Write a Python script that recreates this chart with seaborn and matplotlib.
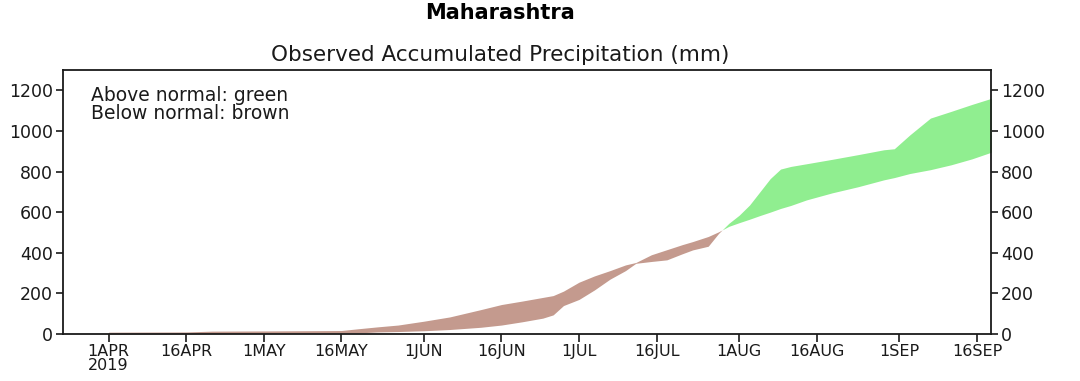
import matplotlib
matplotlib.use("Agg")

import matplotlib.dates as mdates
import matplotlib.pyplot as plt
import numpy as np
import pandas as pd
import seaborn as sns

# days after 1 April 2019
DAY = [0, 15, 20, 30, 45, 48, 52, 56, 61, 66, 72, 76, 80, 84, 86, 88, 91, 94,
       97, 100, 102, 105, 108, 111, 113, 116, 118, 120, 122, 124, 126, 128,
       130, 132, 135, 140, 145, 150, 152, 155, 159, 163, 167, 171]
NORMAL = [9, 10, 14, 15, 17, 25, 35, 44, 63, 84, 120, 145, 162, 180, 189, 211,
          255, 286, 312, 340, 352, 390, 415, 440, 455, 480, 503, 530, 548,
          565, 583, 600, 618, 633, 660, 695, 725, 759, 770, 790, 809, 833,
          862, 897]
OBSERVED = [0, 1, 2, 3, 4, 5, 10, 12, 16, 22, 33, 44, 60, 78, 94, 140, 170,
            217, 270, 312, 348, 357, 365, 395, 414, 432, 495, 545, 585, 635,
            700, 765, 812, 825, 838, 860, 883, 907, 912, 980, 1063, 1096,
            1130, 1162]
YTICKS = [0, 200, 400, 600, 800, 1000, 1200]
XTICK_DATES = ["2019-04-01", "2019-04-16", "2019-05-01", "2019-05-16",
               "2019-06-01", "2019-06-16", "2019-07-01", "2019-07-16",
               "2019-08-01", "2019-08-16", "2019-09-01", "2019-09-16"]
XTICK_LABELS = ["1APR\n2019", "16APR", "1MAY", "16MAY", "1JUN", "16JUN",
                "1JUL", "16JUL", "1AUG", "16AUG", "1SEP", "16SEP"]

GREEN = "#90ee90"
BROWN = "#c49a8e"
INK = "#1a1a1a"

start = pd.Timestamp("2019-04-01")
df = pd.DataFrame({
    "date": start + pd.to_timedelta(DAY, unit="D"),
    "normal": NORMAL,
    "observed": OBSERVED,
})

sns.set_style("ticks")
plt.rcParams["font.family"] = ["DejaVu Sans"]

fig = plt.figure(figsize=(10.8, 3.81), dpi=100)
ax = fig.add_axes([0.058, 0.1234, 0.86, 0.693])

# invisible lines just to register the series with seaborn/axes
sns.lineplot(data=df, x="date", y="normal", ax=ax, lw=0, color=BROWN)
sns.lineplot(data=df, x="date", y="observed", ax=ax, lw=0, color=GREEN)

x = mdates.date2num(df["date"])
obs = np.array(OBSERVED, dtype=float)
nor = np.array(NORMAL, dtype=float)
ax.fill_between(x, nor, obs, where=obs >= nor, interpolate=True,
                color=GREEN, lw=0)
ax.fill_between(x, nor, obs, where=obs <= nor, interpolate=True,
                color=BROWN, lw=0)

ax.set_xlim(start - pd.Timedelta(days=8.9), start + pd.Timedelta(days=170.8))
ax.set_ylim(0, 1300)
ax.set_xticks(pd.to_datetime(XTICK_DATES))
ax.set_xticklabels(XTICK_LABELS, fontsize=11.5, color=INK, linespacing=0.95)
ax.set_yticks(YTICKS)
ax.tick_params(axis="y", which="both", left=True, right=True,
               labelleft=True, labelright=True, labelsize=12.5,
               colors=INK, length=5, width=1.2, pad=2)
ax.tick_params(axis="x", length=6, width=1.2, labelsize=11.5, colors=INK, pad=1)
ax.set_xlabel("")
ax.set_ylabel("")
for sp in ax.spines.values():
    sp.set_visible(True)
    sp.set_linewidth(1.3)
    sp.set_color(INK)

ax.text(0.03, 0.94, "Above normal: green\nBelow normal: brown",
        transform=ax.transAxes, fontsize=13.5, color=INK, va="top",
        linespacing=0.95)

fig.text(500 / 1080, 1 - 13 / 381, "Maharashtra", ha="center", va="center",
         fontsize=15, fontweight="bold", color="black")
fig.text(500 / 1080, 1 - 55 / 381, "Observed Accumulated Precipitation (mm)",
         ha="center", va="center", fontsize=15.5, color=INK)

fig.savefig("out.png", dpi=100)
